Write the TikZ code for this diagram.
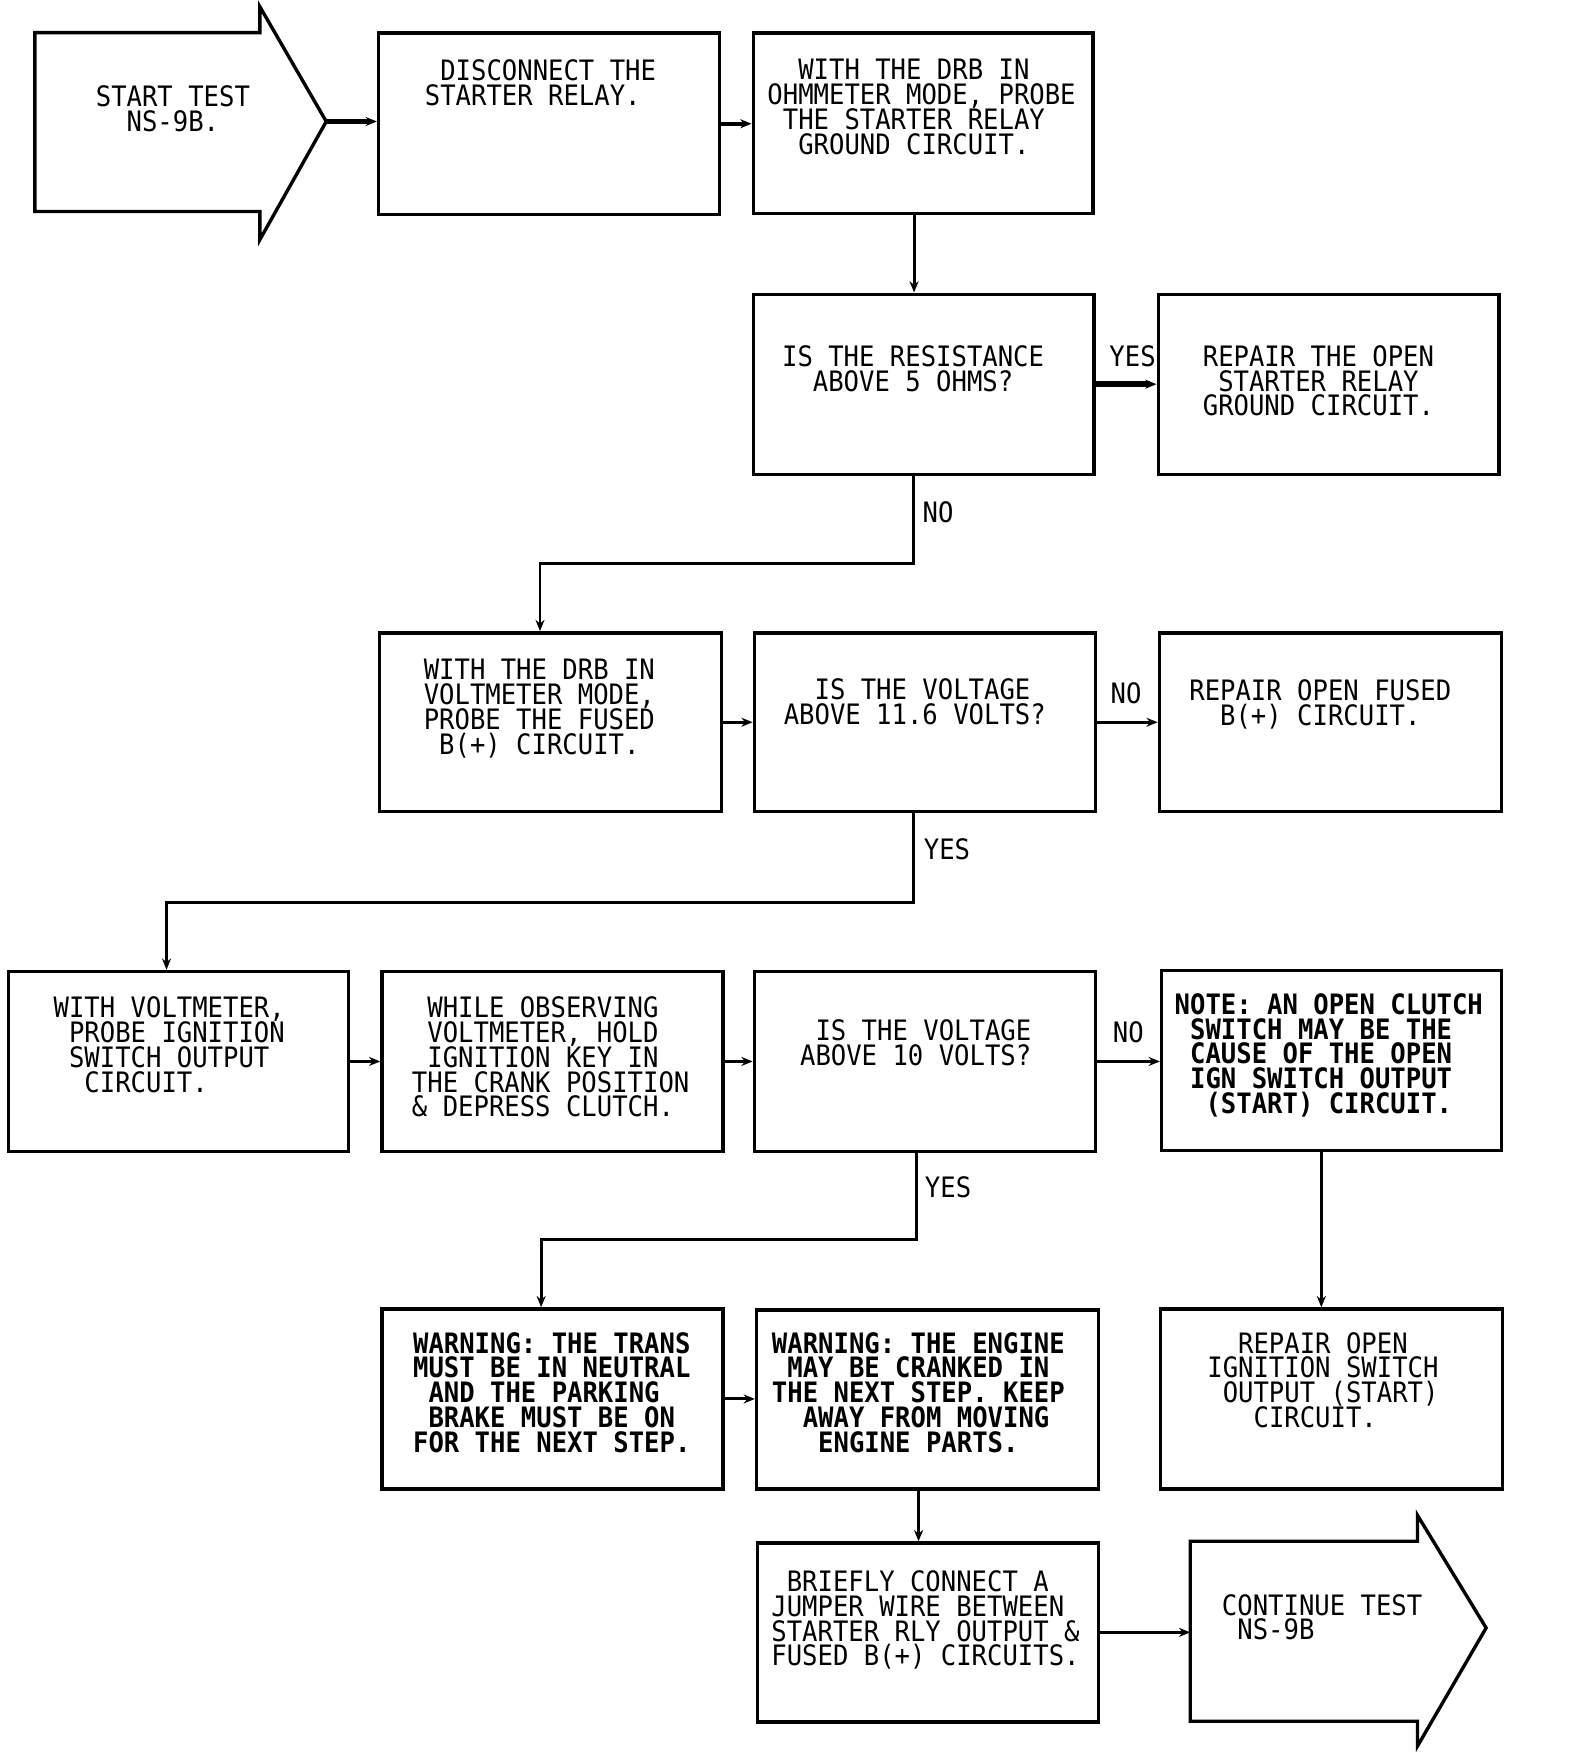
\documentclass[tikz,border=0pt]{standalone}
\usepackage{fontspec}
\newfontfamily\plotfam[FakeStretch=0.91]{DejaVu Sans Mono}
\newcommand\plotfont{\plotfam\fontsize{25pt}{22pt}\selectfont\lineskiplimit=-30pt\relax}
\newcommand\ind[1]{\hspace*{#1\fontcharwd\font`X}}
\usetikzlibrary{arrows.meta}
\begin{document}
\begin{tikzpicture}[x=1pt,y=-1pt,
  box/.style={draw, line width=3pt, rectangle, inner sep=0pt, anchor=north west},
  txt/.style={font=\plotfont, align=left, anchor=north west, inner sep=0pt},
  btxt/.style={txt, font=\plotfont\bfseries},
  conn/.style={line width=2.6pt, -{Stealth[length=10pt,width=8pt]}},
  heavy/.style={conn, line width=3.6pt},
  outline/.style={line width=3pt, line join=miter}]
\fill[white] (0,0) rectangle (1394,1568);
\useasboundingbox (0,0) rectangle (1394,1568);

% start arrow
\draw[outline] (31,29) -- (231,29) -- (231,6) -- (290,108) -- (231,213) -- (231,188) -- (31,188) -- cycle;
\coordinate (stip) at (290,108);
\node[txt] (st) at (85,76) {START TEST\\\ind{2}NS-9B.};

% row 1
\node[box, minimum width=303pt, minimum height=161pt] (b1) at (335,28) {};
\node[txt] (b1t) at (377.5,53) {\ind{1}DISCONNECT THE\\STARTER RELAY.};
\node[box, minimum width=302pt, minimum height=160pt] (b2) at (668,28) {};
\node[txt] (b2t) at (682,52.5) {\ind{2}WITH THE DRB IN\\OHMMETER MODE, PROBE\\\ind{1}THE STARTER RELAY\\\ind{2}GROUND CIRCUIT.};

% row 2
\node[box, minimum width=303pt, minimum height=160pt] (d1) at (668,260) {};
\node[txt] (d1t) at (695,307) {IS THE RESISTANCE\\\ind{2}ABOVE 5 OHMS?};
\node[box, minimum width=303pt, minimum height=160pt] (r1) at (1028,260) {};
\node[txt] (r1t) at (1069,307) {REPAIR THE OPEN\\\ind{1}STARTER RELAY\\GROUND CIRCUIT.};

% row 3
\node[box, minimum width=304pt, minimum height=159pt] (b3) at (336,561) {};
\node[txt] (b3t) at (376.5,586) {WITH THE DRB IN\\VOLTMETER MODE,\\PROBE THE FUSED\\\ind{1}B(+) CIRCUIT.};
\node[box, minimum width=303pt, minimum height=159pt] (d2) at (669,561) {};
\node[txt] (d2t) at (696.5,603) {\ind{2}IS THE VOLTAGE\\ABOVE 11.6 VOLTS?};
\node[box, minimum width=304pt, minimum height=159pt] (r2) at (1029,561) {};
\node[txt] (r2t) at (1057,604) {REPAIR OPEN FUSED\\\ind{2}B(+) CIRCUIT.};

% row 4
\node[box, minimum width=302pt, minimum height=160pt] (b4) at (6,862) {};
\node[txt] (b4t) at (47.5,886) {WITH VOLTMETER,\\\ind{1}PROBE IGNITION\\\ind{1}SWITCH OUTPUT\\\ind{2}CIRCUIT.};
\node[box, minimum width=303pt, minimum height=160pt] (b5) at (338,862) {};
\node[txt] (b5t) at (366,886) {\ind{1}WHILE OBSERVING\\\ind{1}VOLTMETER, HOLD\\\ind{1}IGNITION KEY IN\\THE CRANK POSITION\\\& DEPRESS CLUTCH.};
\node[box, minimum width=303pt, minimum height=160pt] (d3) at (669,862) {};
\node[txt] (d3t) at (711,906) {\ind{1}IS THE VOLTAGE\\ABOVE 10 VOLTS?};
\node[box, minimum width=302pt, minimum height=160pt] (n1) at (1031,861) {};
\node[btxt] (n1t) at (1044,883) {NOTE: AN OPEN CLUTCH\\\ind{1}SWITCH MAY BE THE\\\ind{1}CAUSE OF THE OPEN\\\ind{1}IGN SWITCH OUTPUT\\\ind{2}(START) CIRCUIT.};

% row 5
\node[box, minimum width=303pt, minimum height=160pt] (w1) at (338,1162) {};
\node[btxt] (w1t) at (367,1184) {WARNING: THE TRANS\\MUST BE IN NEUTRAL\\\ind{1}AND THE PARKING\\\ind{1}BRAKE MUST BE ON\\FOR THE NEXT STEP.};
\node[box, minimum width=304pt, minimum height=159pt] (w2) at (671,1163) {};
\node[btxt] (w2t) at (686,1184) {WARNING: THE ENGINE\\\ind{1}MAY BE CRANKED IN\\THE NEXT STEP. KEEP\\\ind{2}AWAY FROM MOVING\\\ind{3}ENGINE PARTS.};
\node[box, minimum width=304pt, minimum height=160pt] (r3) at (1030,1162) {};
\node[txt] (r3t) at (1073,1184) {\ind{2}REPAIR OPEN\\IGNITION SWITCH\\\ind{1}OUTPUT (START)\\\ind{3}CIRCUIT.};

% row 6
\node[box, minimum width=303pt, minimum height=159pt] (b6) at (672,1370) {};
\node[txt] (b6t) at (685.5,1396) {\ind{1}BRIEFLY CONNECT A\\JUMPER WIRE BETWEEN\\STARTER RLY OUTPUT \&\\FUSED B(+) CIRCUITS.};

% end arrow
\draw[outline] (1058,1370) -- (1260,1370) -- (1260,1347) -- (1321,1447) -- (1260,1552) -- (1260,1530) -- (1058,1530) -- cycle;
\coordinate (eleft) at (1058,1449);
\node[txt] (et) at (1086,1417) {CONTINUE TEST\\\ind{1}NS-9B};

% labels
\node[txt] (yes1) at (986,307) {YES};
\node[txt] (no1) at (820,446) {NO};
\node[txt] (no2) at (987,607) {NO};
\node[txt] (yes2) at (821,745) {YES};
\node[txt] (no3) at (989,908) {NO};
\node[txt] (yes3) at (822,1046) {YES};

% connectors
\draw[heavy] (stip) -- (stip -| b1.west);
\draw[heavy] (b1.east) -- (b1.east -| b2.west);
\draw[conn] ([xshift=-8pt]b2.south) -- ([xshift=-8pt]b2.south |- d1.north);
\draw[heavy, line width=5pt] (d1.east) -- (d1.east -| r1.west);
\coordinate (j1) at (812,501);
\coordinate (j1b) at (480,501);
\draw[conn] (d1.south -| j1) -- (j1) -- (j1b) -- (b3.north -| j1b);
\draw[conn] (b3.east) -- (b3.east -| d2.west);
\draw[conn] (d2.east) -- (d2.east -| r2.west);
\coordinate (j2) at (812,802);
\coordinate (j2b) at (148,802);
\draw[conn] (d2.south -| j2) -- (j2) -- (j2b) -- (b4.north -| j2b);
\draw[conn] (b4.east) -- (b4.east -| b5.west);
\draw[conn] (b5.east) -- (b5.east -| d3.west);
\draw[conn] (d3.east) -- (d3.east -| n1.west);
\coordinate (j3) at (815,1102);
\coordinate (j3b) at (481,1102);
\draw[conn] (d3.south -| j3) -- (j3) -- (j3b) -- (w1.north -| j3b);
\draw[conn] ([xshift=-9pt]n1.south) -- ([xshift=-9pt]n1.south |- r3.north);
\draw[conn] (w1.east) -- (w1.east -| w2.west);
\draw[conn] ([xshift=-8pt]w2.south) -- ([xshift=-8pt]w2.south |- b6.north);
\draw[conn] (b6.east) -- (b6.east -| eleft);
\end{tikzpicture}
\end{document}
